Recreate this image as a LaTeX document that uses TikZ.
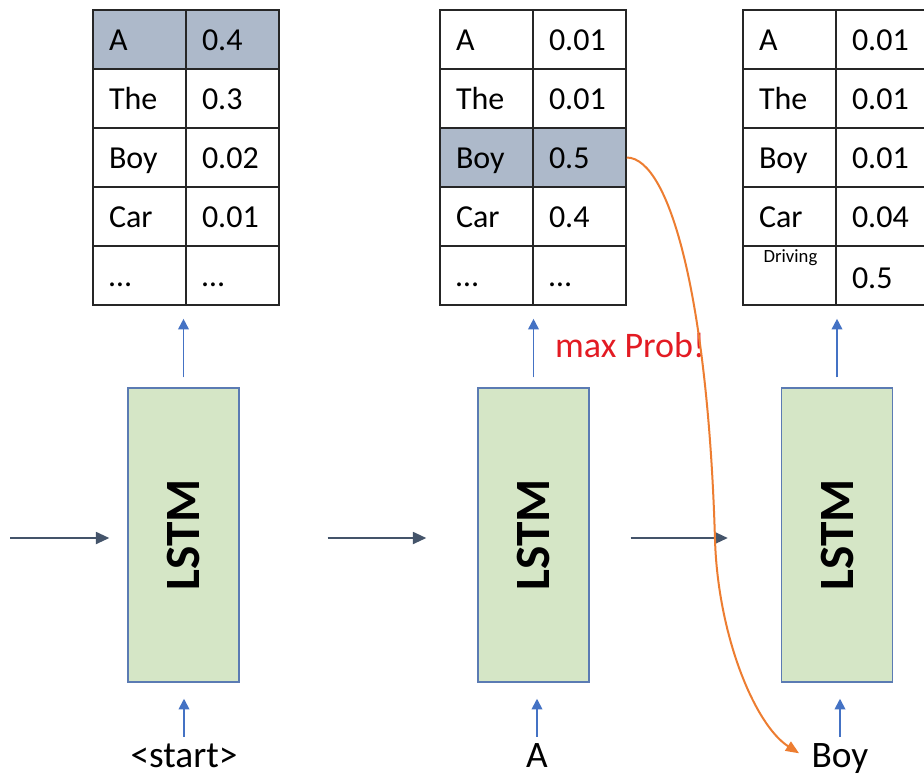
\documentclass[tikz,border=0pt]{standalone}
\usepackage{fontspec}
\setmainfont{Carlito}
\usepackage{tikz}
\usetikzlibrary{arrows.meta}

\definecolor{cellshade}{HTML}{ADB9CA}
\definecolor{lstmgreen}{HTML}{D5E6C6}
\definecolor{lstmedge}{HTML}{5B7BB3}
\definecolor{upblue}{HTML}{4472C4}
\definecolor{statedark}{HTML}{44546A}
\definecolor{pickorange}{HTML}{ED7D31}
\definecolor{probred}{HTML}{E31B23}

\begin{document}
\begin{tikzpicture}[x=0.75pt, y=-0.75pt,
    cell/.style={rectangle, draw=black!85, line width=1.2pt, minimum width=69.75pt, minimum height=44.25pt, text width=45.75pt, inner xsep=12pt, inner ysep=0pt, align=left, font=\fontsize{24}{28}\selectfont, text height=19pt, text depth=3pt},
    hicell/.style={cell, fill=cellshade},
    lstmbox/.style={rectangle, draw=lstmedge, line width=1.1pt, fill=lstmgreen, minimum width=83.25pt, minimum height=220.5pt, font=\fontsize{37}{42}\selectfont\bfseries},
    inword/.style={font=\fontsize{28}{32}\selectfont, text height=19pt, text depth=6pt, anchor=base},
    uparrow/.style={-{Triangle[length=8pt,width=8pt]}, line width=1.3pt, upblue},
    statearrow/.style={-{Triangle[length=10pt,width=9pt]}, line width=1.4pt, statedark},
    pickarrow/.style={-{Triangle[length=10pt,width=8pt]}, line width=1.5pt, pickorange}
]
    \path[use as bounding box, fill=white] (0,0) rectangle (924,776);
    \clip (0,0) rectangle (924,776);

    % Step 1: output distribution
    \node[hicell] (t1w1) at (139.5,39.5) {A};
    \node[hicell] (t1p1) at (232.5,39.5) {0.4};
    \node[cell] (t1w2) at (139.5,98.5) {The};
    \node[cell] (t1p2) at (232.5,98.5) {0.3};
    \node[cell] (t1w3) at (139.5,157.5) {Boy};
    \node[cell] (t1p3) at (232.5,157.5) {0.02};
    \node[cell] (t1w4) at (139.5,216.5) {Car};
    \node[cell] (t1p4) at (232.5,216.5) {0.01};
    \node[cell] (t1w5) at (139.5,275.5) {…};
    \node[cell] (t1p5) at (232.5,275.5) {…};

    % Step 2: output distribution
    \node[cell] (t2w1) at (486.5,39.5) {A};
    \node[cell] (t2p1) at (579.5,39.5) {0.01};
    \node[cell] (t2w2) at (486.5,98.5) {The};
    \node[cell] (t2p2) at (579.5,98.5) {0.01};
    \node[hicell] (t2w3) at (486.5,157.5) {Boy};
    \node[hicell] (t2p3) at (579.5,157.5) {0.5};
    \node[cell] (t2w4) at (486.5,216.5) {Car};
    \node[cell] (t2p4) at (579.5,216.5) {0.4};
    \node[cell] (t2w5) at (486.5,275.5) {…};
    \node[cell] (t2p5) at (579.5,275.5) {…};

    % Step 3: output distribution
    \node[cell] (t3w1) at (789.5,39.5) {A};
    \node[cell] (t3p1) at (882.5,39.5) {0.01};
    \node[cell] (t3w2) at (789.5,98.5) {The};
    \node[cell] (t3p2) at (882.5,98.5) {0.01};
    \node[cell] (t3w3) at (789.5,157.5) {Boy};
    \node[cell] (t3p3) at (882.5,157.5) {0.01};
    \node[cell] (t3w4) at (789.5,216.5) {Car};
    \node[cell] (t3p4) at (882.5,216.5) {0.04};
    \node[cell] (t3w5) at (789.5,275.5) {};
    \node[cell, text height=21pt, text depth=2pt] (t3p5) at (882.5,275.5) {0.5};
    \node[font=\fontsize{14}{16}\selectfont, anchor=base west] (driving) at (759,262) {Driving};

    % LSTM cells
    \node[lstmbox] (lstm1) at (183.5,535) {\rotatebox{90}{LSTM}};
    \node[lstmbox] (lstm2) at (533.5,535) {\rotatebox{90}{LSTM}};
    \node[lstmbox] (lstm3) at (837,535) {\rotatebox{90}{LSTM}};

    % inputs
    \node[inword] (start) at (184,767) {<start>};
    \node[inword] (inA) at (537,767) {A};
    \node[inword] (inBoy) at (840,767) {Boy};

    \node[font=\fontsize{27}{31}\selectfont, text=probred, anchor=base] (maxprob) at (630,357) {max Prob!};

    % arrows
    \coordinate (h0) at (10,538);
    \draw[statearrow, shorten >=13.5pt] (h0) -- (h0 -| lstm1.west);
    \draw[statearrow, shorten <=66pt, shorten >=38.25pt] (h0 -| lstm1.east) -- (h0 -| lstm2.west);
    \draw[statearrow, shorten <=30.75pt, shorten >=39.75pt] (h0 -| lstm2.east) -- (h0 -| lstm3.west);

    \draw[uparrow, shorten <=7.5pt, shorten >=9.75pt] (lstm1.north) -- (lstm1.north |- t1w5.south);
    \draw[uparrow, shorten <=7.5pt, shorten >=9.75pt] (lstm2.north) -- (lstm2.north |- t2w5.south);
    \draw[uparrow, shorten <=7.5pt, shorten >=9.75pt] (lstm3.north) -- (lstm3.north |- t3w5.south);

    \draw[uparrow, shorten >=12pt] (start.north) -- (start.north |- lstm1.south);
    \draw[uparrow, shorten >=12pt] (inA.north) -- (inA.north |- lstm2.south);
    \draw[uparrow, shorten >=12pt] (inBoy.north) -- (inBoy.north |- lstm3.south);

    % greedy pick fed back as next input
    \coordinate (bend) at (715,540);
    \draw[pickarrow, shorten >=7pt] (t2p3.east) .. controls (670,158) and (708,300) .. (bend) .. controls (718,636) and (755,725) .. (inBoy.west);

\end{tikzpicture}
\end{document}
